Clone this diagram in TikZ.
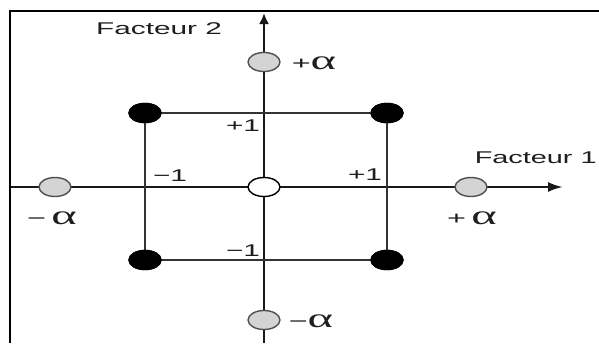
\documentclass[tikz,border=0pt]{standalone}
\usepackage{fontspec}
\setmainfont{Liberation Sans}
\newfontfamily\greekf{Liberation Serif}
\usetikzlibrary{shapes.geometric,arrows.meta}
\definecolor{txt}{HTML}{1E1E1E}
\definecolor{greyfill}{HTML}{D4D4D4}
\definecolor{greyline}{HTML}{505050}
\tikzset{
  pt/.style={ellipse, minimum width=32pt, minimum height=19pt, inner sep=0pt, line width=1.4pt},
  greypt/.style={pt, draw=greyline, fill=greyfill},
  blackpt/.style={pt, draw=black, fill=black},
  whitept/.style={pt, draw=black, fill=white},
  lbl/.style={text=txt, inner sep=0pt, font=\fontsize{17}{18}\selectfont, xscale=1.75},
  alab/.style={text=txt, inner sep=0pt, font=\fontsize{18}{18}\selectfont, xscale=1.8},
  axis/.style={line width=2.5pt, draw=black!90},
  rectline/.style={line width=1.7pt, draw=black!80},
}
\newcommand{\alp}{{\greekf\fontsize{27}{27}\selectfont α}}
\begin{document}
\begin{tikzpicture}[x=1pt,y=-1pt]
\useasboundingbox (0,0) rectangle (599,343);
\fill[white] (0,0) rectangle (599,343);
% frame
\coordinate (f1) at (10,343);
\coordinate (f2) at (10,11);
\coordinate (f3) at (599,11);
\draw[line width=2.4pt] (f1) -- (f2) -- (f3);
% axes ends
\coordinate (xs) at (11,187);
\coordinate (xe) at (563,187);
\coordinate (ys) at (264,343);
\coordinate (ye) at (264,13);
\draw[axis, -{Latex[length=15pt,width=10pt]}] (xs) -- (xe);
\draw[axis, -{Latex[length=11pt,width=10pt]}] (ys) -- (ye);
% corner points
\node[blackpt] (tl) at (145,113) {};
\node[blackpt] (tr) at (387,113) {};
\node[blackpt] (bl) at (145,260) {};
\node[blackpt] (br) at (387,260) {};
\draw[rectline] (tl.center) -- (tr.center);
\draw[rectline] (bl.center) -- (br.center);
\draw[rectline] (tl.center) -- (bl.center);
\draw[rectline] (tr.center) -- (br.center);
\node[blackpt] at (tl) {};
\node[blackpt] at (tr) {};
\node[blackpt] at (bl) {};
\node[blackpt] at (br) {};
% axial and center points
\node[greypt] (pt) at (264,62) {};
\node[greypt] (pb) at (264,320) {};
\node[greypt] (pl) at (55,187) {};
\node[greypt] (pr) at (471,187) {};
\node[whitept] (pc) at (264,187) {};
% labels
\node[lbl] (f2l) at (159,29) {Facteur 2};
\node[lbl, xscale=0.97, anchor=east] (f1l) at (597,158) {Facteur 1};
\node[lbl] (l1) at (243,126) {+1};
\node[lbl] (l2) at (170,176) {−1};
\node[lbl] (l3) at (365,175) {+1};
\node[lbl] (l4) at (243,251) {−1};
\node[alab] (a1) at (314,63) {+\alp};
\node[alab] (a2) at (52,218) {−\,\alp};
\node[alab] (a3) at (472,218) {+\,\alp};
\node[alab] (a4) at (311,321) {−\alp};
\end{tikzpicture}
\end{document}
